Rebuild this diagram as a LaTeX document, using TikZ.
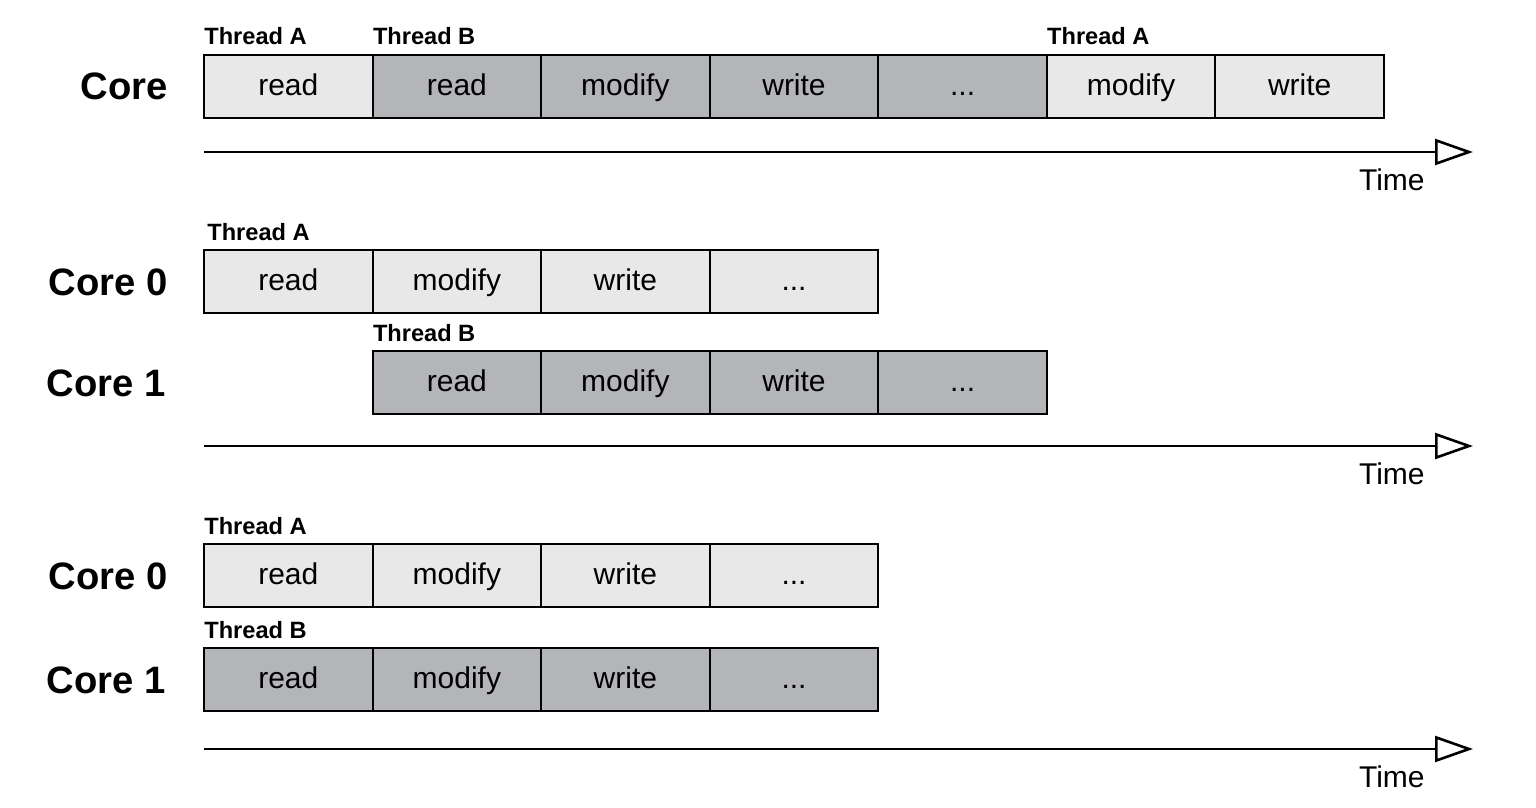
\documentclass[tikz,border=0pt]{standalone}
\usepackage{fontspec}
\setmainfont{Liberation Sans}
\usetikzlibrary{arrows.meta}
\definecolor{lightcell}{HTML}{E8E8E8}
\definecolor{darkcell}{HTML}{B4B5B8}
\begin{document}
\begin{tikzpicture}[x=0.5pt,y=-0.5pt,
  cell/.style={draw=black, line width=1pt, minimum width=84.3pt, minimum height=31.5pt,
    inner sep=0pt, font=\fontsize{15}{18}\selectfont, text height=0.9em, text depth=-0.14em},
  lt/.style={cell, fill=lightcell},
  dk/.style={cell, fill=darkcell},
  thr/.style={font=\fontsize{11.8}{13}\selectfont\bfseries, inner sep=0pt, anchor=base west},
  corelbl/.style={font=\fontsize{19.1}{22}\selectfont\bfseries, inner sep=0pt, anchor=base east},
  timelbl/.style={font=\fontsize{15}{18}\selectfont, inner sep=0pt, anchor=base east},
  axis/.style={line width=1.3pt, -{Triangle[open,length=19pt,width=13pt,fill=white]}}]
\useasboundingbox (0,0) rectangle (1536,808);
% ---------- Section 1 ----------
\node[lt] (a0) at (288.3,86.5) {read};
\node[dk] (a1) at (456.9,86.5) {read};
\node[dk] (a2) at (625.4,86.5) {modify};
\node[dk] (a3) at (794.0,86.5) {write};
\node[dk] (a4) at (962.6,86.5) {...};
\node[lt] (a5) at (1131.1,86.5) {modify};
\node[lt] (a6) at (1299.7,86.5) {write};
\node[thr] (ta0) at ([xshift=0.5pt,yshift=4.5pt]a0.north west) {Thread A};
\node[thr] (ta1) at ([xshift=0.5pt,yshift=4.5pt]a1.north west) {Thread B};
\node[thr] (ta5) at ([xshift=0.5pt,yshift=4.5pt]a5.north west) {Thread A};
\node[corelbl] (ca) at ([xshift=-17.5pt,yshift=-6.75pt]a0.west) {Core};
\coordinate (s1) at (204,152);
\coordinate (e1) at (1473,152);
\draw[axis] (s1) -- (e1);
\node[timelbl] (t1) at ([xshift=-24pt,yshift=-19pt]e1) {Time};
% ---------- Section 2 ----------
\node[lt] (b0) at (288.3,281.5) {read};
\node[lt] (b1) at (456.9,281.5) {modify};
\node[lt] (b2) at (625.4,281.5) {write};
\node[lt] (b3) at (794.0,281.5) {...};
\node[dk] (c1) at (456.9,382.5) {read};
\node[dk] (c2) at (625.4,382.5) {modify};
\node[dk] (c3) at (794.0,382.5) {write};
\node[dk] (c4) at (962.6,382.5) {...};
\node[thr] (tb0) at ([xshift=2pt,yshift=4.5pt]b0.north west) {Thread A};
\node[thr] (tc1) at ([xshift=0.5pt,yshift=4.5pt]c1.north west) {Thread B};
\node[corelbl] (cb) at ([xshift=-17.5pt,yshift=-6.75pt]b0.west) {Core 0};
\node[corelbl] (cc) at ([xshift=-18.5pt,yshift=-6.75pt]b0.west |- c1.west) {Core 1};
\coordinate (s2) at (204,446);
\coordinate (e2) at (1473,446);
\draw[axis] (s2) -- (e2);
\node[timelbl] (t2) at ([xshift=-24pt,yshift=-19pt]e2) {Time};
% ---------- Section 3 ----------
\node[lt] (d0) at (288.3,575.5) {read};
\node[lt] (d1) at (456.9,575.5) {modify};
\node[lt] (d2) at (625.4,575.5) {write};
\node[lt] (d3) at (794.0,575.5) {...};
\node[dk] (f0) at (288.3,679.5) {read};
\node[dk] (f1) at (456.9,679.5) {modify};
\node[dk] (f2) at (625.4,679.5) {write};
\node[dk] (f3) at (794.0,679.5) {...};
\node[thr] (td0) at ([xshift=0.5pt,yshift=4.5pt]d0.north west) {Thread A};
\node[thr] (tf0) at ([xshift=0.5pt,yshift=4.5pt]f0.north west) {Thread B};
\node[corelbl] (cd) at ([xshift=-17.5pt,yshift=-6.75pt]d0.west) {Core 0};
\node[corelbl] (cf) at ([xshift=-18.5pt,yshift=-6.75pt]f0.west) {Core 1};
\coordinate (s3) at (204,749);
\coordinate (e3) at (1473,749);
\draw[axis] (s3) -- (e3);
\node[timelbl] (t3) at ([xshift=-24pt,yshift=-19pt]e3) {Time};
\end{tikzpicture}
\end{document}
